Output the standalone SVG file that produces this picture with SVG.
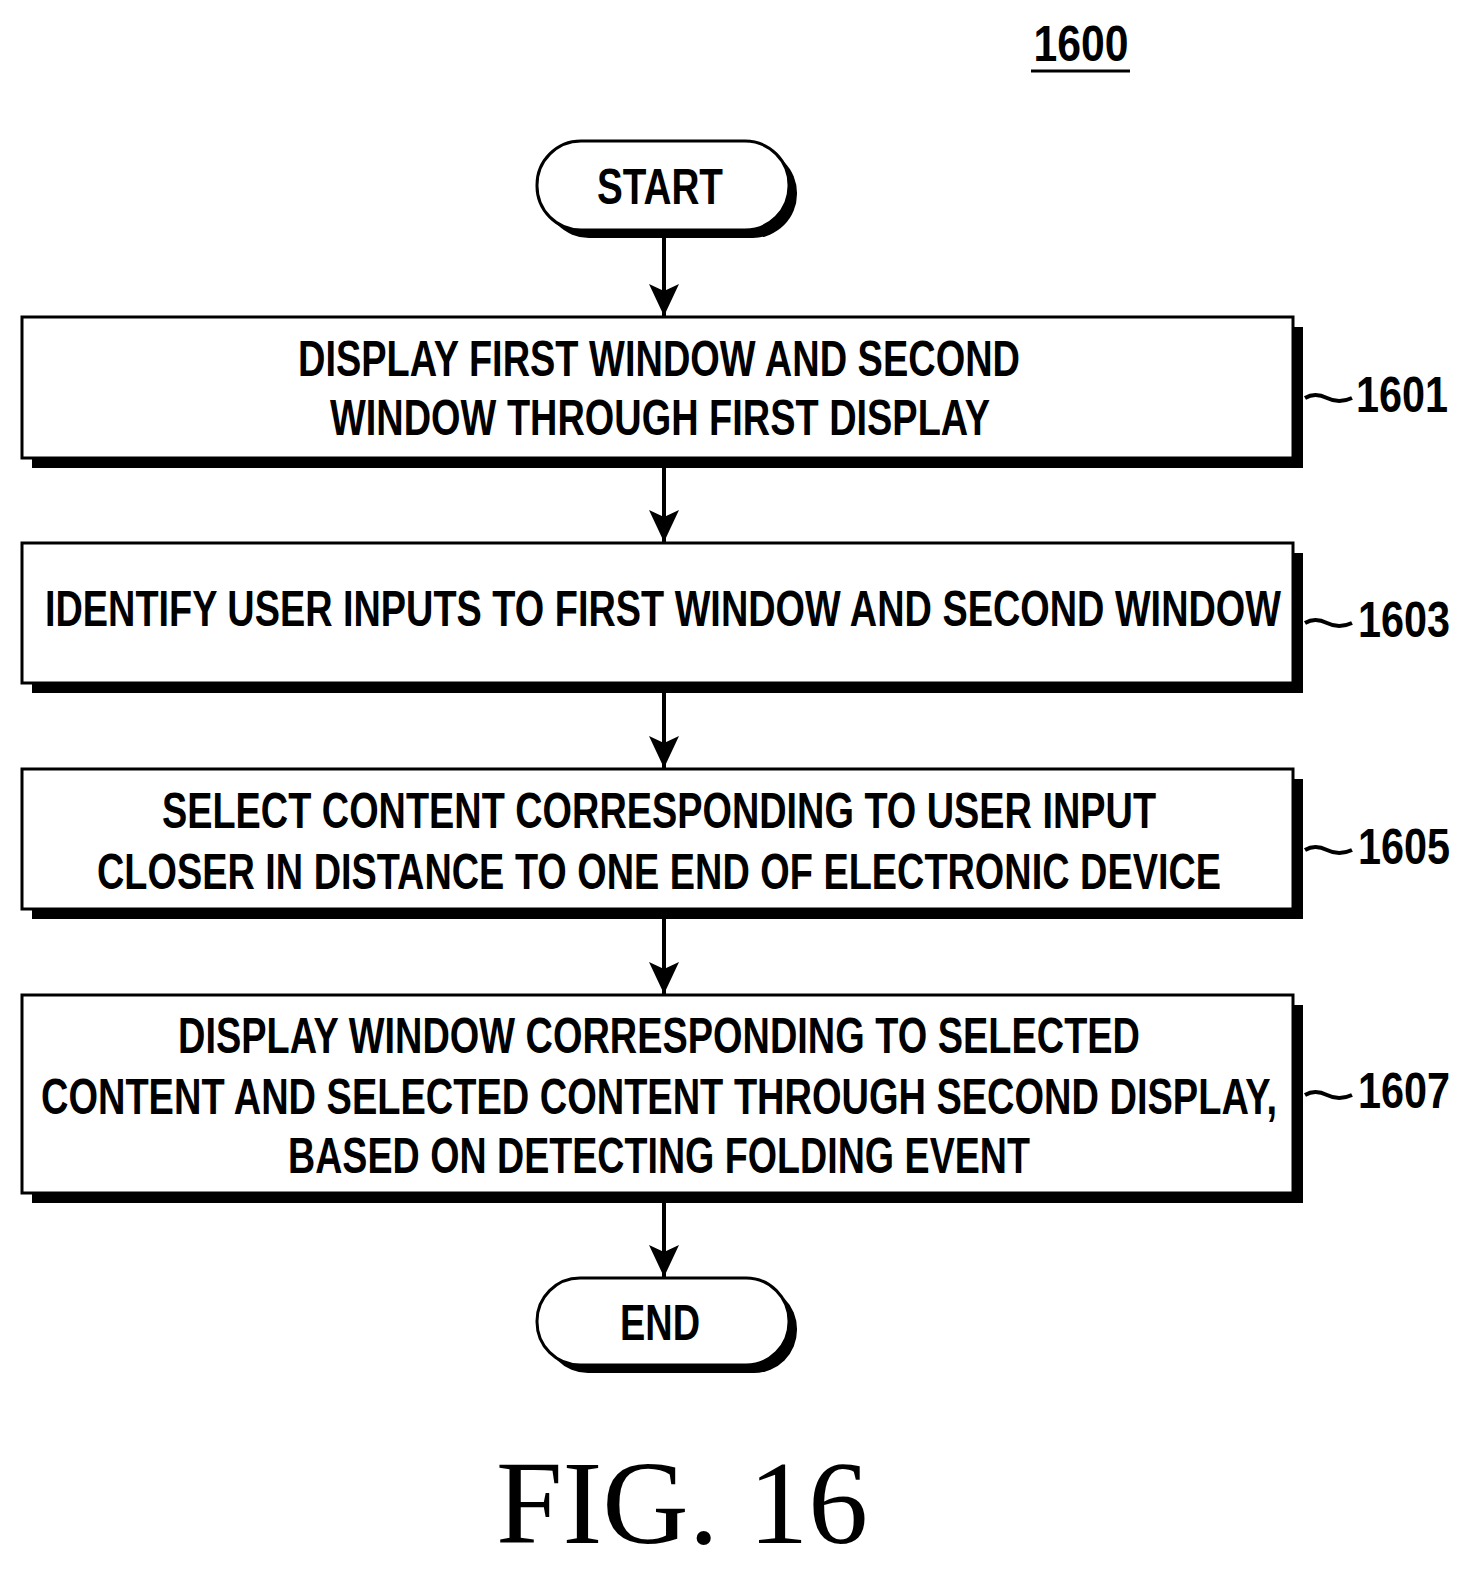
<svg xmlns="http://www.w3.org/2000/svg" width="1475" height="1572" viewBox="0 0 1475 1572">
<style>
.t{font-family:"Liberation Sans",Arial,sans-serif;font-weight:bold;font-size:50px;text-anchor:middle;fill:#000}
.b{fill:#fff;stroke:#000;stroke-width:3}
.s{fill:#000}
.c{stroke:#000;stroke-width:4;fill:none}
</style>
<defs><marker id="a" markerWidth="32" markerHeight="34" refX="32" refY="15" orient="auto" markerUnits="userSpaceOnUse" viewBox="0 0 32 30"><path d="M0,0 L32,15 L0,30 L7,15 Z" fill="#000"/></marker></defs>
<g id="title"><text class="t" x="1081" y="61" textLength="95" lengthAdjust="spacingAndGlyphs">1600</text><line x1="1031" y1="71" x2="1130" y2="71" stroke="#000" stroke-width="3"/></g>
<g id="start"><rect class="s" x="545" y="149" width="252" height="89" rx="44"/><rect class="b" x="537" y="141" width="252" height="89" rx="44"/><text class="t" x="660" y="204" textLength="126" lengthAdjust="spacingAndGlyphs">START</text></g>
<g id="n1601"><rect class="s" x="32" y="327" width="1271" height="141"/><rect class="b" x="22" y="317" width="1271" height="141"/>
<text class="t" x="659" y="376" textLength="722" lengthAdjust="spacingAndGlyphs">DISPLAY FIRST WINDOW AND SECOND</text>
<text class="t" x="660" y="435" textLength="660" lengthAdjust="spacingAndGlyphs">WINDOW THROUGH FIRST DISPLAY</text>
<text class="t" x="1402" y="412" textLength="92" lengthAdjust="spacingAndGlyphs">1601</text></g>
<g id="n1603"><rect class="s" x="32" y="553" width="1271" height="140"/><rect class="b" x="22" y="543" width="1271" height="140"/>
<text class="t" x="663" y="626" textLength="1236" lengthAdjust="spacingAndGlyphs">IDENTIFY USER INPUTS TO FIRST WINDOW AND SECOND WINDOW</text>
<text class="t" x="1404" y="637" textLength="92" lengthAdjust="spacingAndGlyphs">1603</text></g>
<g id="n1605"><rect class="s" x="32" y="779" width="1271" height="140"/><rect class="b" x="22" y="769" width="1271" height="140"/>
<text class="t" x="659" y="828" textLength="994" lengthAdjust="spacingAndGlyphs">SELECT CONTENT CORRESPONDING TO USER INPUT</text>
<text class="t" x="659" y="889" textLength="1124" lengthAdjust="spacingAndGlyphs">CLOSER IN DISTANCE TO ONE END OF ELECTRONIC DEVICE</text>
<text class="t" x="1404" y="864" textLength="92" lengthAdjust="spacingAndGlyphs">1605</text></g>
<g id="n1607"><rect class="s" x="32" y="1005" width="1271" height="198"/><rect class="b" x="22" y="995" width="1271" height="198"/>
<text class="t" x="659" y="1053" textLength="962" lengthAdjust="spacingAndGlyphs">DISPLAY WINDOW CORRESPONDING TO SELECTED</text>
<text class="t" x="659" y="1114" textLength="1236" lengthAdjust="spacingAndGlyphs">CONTENT AND SELECTED CONTENT THROUGH SECOND DISPLAY,</text>
<text class="t" x="659" y="1173" textLength="742" lengthAdjust="spacingAndGlyphs">BASED ON DETECTING FOLDING EVENT</text>
<text class="t" x="1404" y="1108" textLength="92" lengthAdjust="spacingAndGlyphs">1607</text></g>
<g id="end"><rect class="s" x="545" y="1286" width="252" height="87" rx="43"/><rect class="b" x="537" y="1278" width="252" height="87" rx="43"/><text class="t" x="660" y="1340" textLength="80" lengthAdjust="spacingAndGlyphs">END</text></g>
<g id="connectors">
<line class="c" x1="664" y1="238" x2="664" y2="316" marker-end="url(#a)"/>
<line class="c" x1="664" y1="468" x2="664" y2="542" marker-end="url(#a)"/>
<line class="c" x1="664" y1="693" x2="664" y2="768" marker-end="url(#a)"/>
<line class="c" x1="664" y1="919" x2="664" y2="994" marker-end="url(#a)"/>
<line class="c" x1="664" y1="1203" x2="664" y2="1277" marker-end="url(#a)"/>
<path class="c" stroke-width="3" d="M1305,398 q10,-6 22,0 t25,0"/>
<path class="c" stroke-width="3" d="M1305,623 q10,-6 22,0 t25,0"/>
<path class="c" stroke-width="3" d="M1305,850 q10,-6 22,0 t25,0"/>
<path class="c" stroke-width="3" d="M1305,1095 q10,-6 22,0 t25,0"/>
</g>
<text x="682" y="1543" font-family="Liberation Serif,serif" font-size="118" text-anchor="middle" textLength="372" lengthAdjust="spacingAndGlyphs">FIG. 16</text>
</svg>
